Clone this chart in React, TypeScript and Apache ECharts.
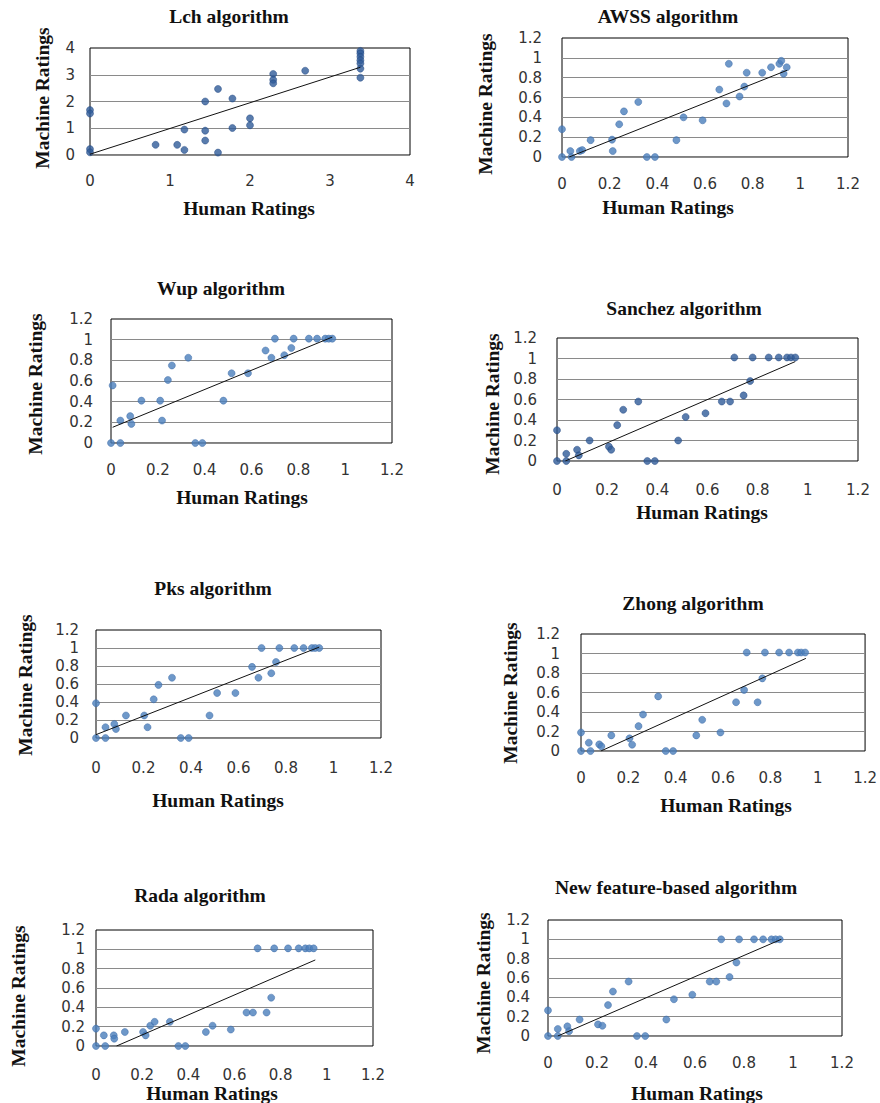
import React, { useEffect, useRef } from "react";
import * as echarts from "echarts";

// ---- Data (x = human rating, y = machine rating) ----
const lchPoints = [
  [0, 1.68], [0, 1.55], [0, 0.22], [0, 0.1], [0.82, 0.38], [1.09, 0.38], [1.18, 0.95], [1.18, 0.19],
  [1.44, 2.0], [1.44, 0.91], [1.44, 0.54], [1.6, 2.47], [1.6, 0.09], [1.78, 2.11], [1.78, 1.01],
  [2.0, 1.37], [2.0, 1.11], [2.29, 3.03], [2.29, 2.81], [2.29, 2.68], [2.69, 3.15],
  [3.38, 3.89], [3.38, 3.8], [3.38, 3.67], [3.38, 3.54], [3.38, 3.42], [3.38, 3.23], [3.38, 2.89],
];
const lchTrend = [[0, 0.03], [3.38, 3.28]];

const awssPoints = [
  [0, 0.28], [0, 0], [0.035, 0.06], [0.04, 0], [0.075, 0.06], [0.085, 0.07], [0.12, 0.17], [0.21, 0.175],
  [0.213, 0.06], [0.24, 0.33], [0.26, 0.46], [0.32, 0.555], [0.356, 0], [0.39, 0], [0.48, 0.17],
  [0.51, 0.4], [0.59, 0.37], [0.66, 0.68], [0.69, 0.54], [0.7, 0.94], [0.745, 0.61], [0.765, 0.71],
  [0.775, 0.85], [0.84, 0.85], [0.877, 0.905], [0.912, 0.94], [0.92, 0.97], [0.93, 0.84], [0.943, 0.905],
];
const awssTrend = [[0.03, 0], [0.945, 0.875]];

const wupPoints = [
  [0.007, 0.557], [0, 0], [0.04, 0.217], [0.04, 0], [0.082, 0.26], [0.087, 0.185], [0.13, 0.41],
  [0.21, 0.41], [0.218, 0.217], [0.243, 0.61], [0.26, 0.75], [0.33, 0.825], [0.36, 0], [0.39, 0],
  [0.48, 0.41], [0.515, 0.675], [0.585, 0.675], [0.66, 0.895], [0.685, 0.825], [0.7, 1.01],
  [0.74, 0.85], [0.77, 0.92], [0.78, 1.01], [0.845, 1.01], [0.88, 1.01], [0.915, 1.01], [0.93, 1.01], [0.945, 1.01],
];
const wupTrend = [[0.007, 0.152], [0.945, 1.025]];

const sanchezPoints = [
  [0, 0.3], [0, 0], [0.037, 0.07], [0.037, 0], [0.08, 0.11], [0.087, 0.055], [0.13, 0.2], [0.207, 0.14],
  [0.216, 0.11], [0.24, 0.35], [0.264, 0.5], [0.324, 0.58], [0.36, 0], [0.39, 0], [0.483, 0.2],
  [0.513, 0.43], [0.592, 0.466], [0.657, 0.58], [0.69, 0.58], [0.707, 1.01], [0.744, 0.64],
  [0.77, 0.78], [0.78, 1.01], [0.844, 1.01], [0.884, 1.01], [0.917, 1.01], [0.933, 1.01], [0.95, 1.01],
];
const sanchezTrend = [[0.033, 0], [0.95, 0.97]];

const pksPoints = [
  [0, 0.386], [0, 0], [0.04, 0.12], [0.04, 0], [0.077, 0.155], [0.084, 0.1], [0.126, 0.25], [0.203, 0.25],
  [0.217, 0.12], [0.243, 0.43], [0.263, 0.59], [0.32, 0.67], [0.357, 0], [0.39, 0], [0.478, 0.25],
  [0.51, 0.5], [0.587, 0.5], [0.657, 0.79], [0.684, 0.67], [0.697, 1.0], [0.738, 0.72], [0.758, 0.845],
  [0.772, 1.0], [0.835, 1.0], [0.874, 1.0], [0.909, 1.0], [0.923, 1.0], [0.94, 1.0],
];
const pksTrend = [[0, 0.037], [0.94, 1.01]];

const zhongPoints = [
  [0, 0.19], [0, 0], [0.033, 0.085], [0.04, 0], [0.077, 0.068], [0.086, 0.048], [0.128, 0.16],
  [0.205, 0.13], [0.216, 0.065], [0.243, 0.255], [0.262, 0.374], [0.326, 0.56], [0.358, 0], [0.389, 0],
  [0.487, 0.16], [0.512, 0.32], [0.589, 0.19], [0.655, 0.5], [0.689, 0.626], [0.7, 1.01], [0.746, 0.5],
  [0.766, 0.745], [0.777, 1.01], [0.837, 1.01], [0.879, 1.01], [0.916, 1.01], [0.93, 1.01], [0.947, 1.01],
];
const zhongTrend = [[0.084, 0], [0.95, 0.95]];

const radaPoints = [
  [0, 0.18], [0, 0], [0.034, 0.11], [0.04, 0], [0.077, 0.11], [0.079, 0.076], [0.125, 0.145],
  [0.204, 0.145], [0.215, 0.11], [0.235, 0.21], [0.254, 0.25], [0.32, 0.25], [0.357, 0], [0.387, 0],
  [0.476, 0.145], [0.505, 0.21], [0.584, 0.17], [0.652, 0.346], [0.68, 0.346], [0.7, 1.01], [0.739, 0.346],
  [0.759, 0.5], [0.772, 1.01], [0.832, 1.01], [0.878, 1.01], [0.907, 1.01], [0.924, 1.01], [0.943, 1.01],
];
const radaTrend = [[0.089, 0], [0.95, 0.89]];

const newPoints = [
  [0, 0.265], [0, 0], [0.04, 0.073], [0.04, 0], [0.079, 0.1], [0.086, 0.05], [0.129, 0.17], [0.204, 0.12],
  [0.222, 0.106], [0.245, 0.32], [0.265, 0.46], [0.329, 0.563], [0.363, 0], [0.397, 0], [0.483, 0.17],
  [0.514, 0.38], [0.589, 0.427], [0.66, 0.563], [0.687, 0.563], [0.707, 1.0], [0.741, 0.61], [0.769, 0.76],
  [0.78, 1.0], [0.841, 1.0], [0.878, 1.0], [0.912, 1.0], [0.929, 1.0], [0.946, 1.0],
];
const newTrend = [[0.04, 0], [0.952, 1.0]];

const titles = [
  "Lch algorithm", "AWSS algorithm", "Wup algorithm", "Sanchez algorithm",
  "Pks algorithm", "Zhong algorithm", "Rada algorithm", "New feature-based algorithm",
];
const allPoints = [lchPoints, awssPoints, wupPoints, sanchezPoints, pksPoints, zhongPoints, radaPoints, newPoints];
const allTrends = [lchTrend, awssTrend, wupTrend, sanchezTrend, pksTrend, zhongTrend, radaTrend, newTrend];
const axisMax = [4, 1.2, 1.2, 1.2, 1.2, 1.2, 1.2, 1.2];
const axisStep = [1, 0.2, 0.2, 0.2, 0.2, 0.2, 0.2, 0.2];
const xAxisTitle = "Human Ratings";
const yAxisTitle = "Machine Ratings";

// ---- Layout (pixels) ----
const plots = [
  { left: 90, top: 48, width: 320, height: 107, xm: 18, ym: 15, dark: true, t: [229, 16], yt: [42, 98], xt: [249, 208] },
  { left: 562, top: 38, width: 286, height: 119, xm: 19, ym: 20, dark: false, t: [668, 16], yt: [485, 104], xt: [668, 207] },
  { left: 111, top: 319, width: 281, height: 124, xm: 19, ym: 18, dark: false, t: [221, 288], yt: [35, 384], xt: [242, 497] },
  { left: 557, top: 338, width: 301, height: 123, xm: 21, ym: 20, dark: true, t: [684, 308], yt: [492, 404], xt: [702, 512] },
  { left: 96, top: 630, width: 285, height: 108, xm: 22, ym: 17, dark: false, t: [213, 588], yt: [25, 685], xt: [218, 800] },
  { left: 581, top: 634, width: 286, height: 117, xm: 19, ym: 21, dark: false, t: [693, 603], yt: [510, 693], xt: [726, 805] },
  { left: 96, top: 930, width: 277, height: 116, xm: 21, ym: 11, dark: false, t: [200, 895], yt: [18, 996], xt: [212, 1093] },
  { left: 548, top: 920, width: 294, height: 116, xm: 19, ym: 18, dark: false, t: [676, 887], yt: [483, 983], xt: [697, 1093] },
];

const serifBold = { fontFamily: '"Liberation Serif", "Times New Roman", serif', fontWeight: "bold", fontSize: 19.5 };
const tickFont = { fontFamily: '"DejaVu Sans", Verdana, sans-serif', fontSize: 15, color: "#333" };

function textEl(text: string, x: number, y: number, rotate = false) {
  return {
    type: "text",
    x,
    y,
    rotation: rotate ? Math.PI / 2 : 0,
    style: {
      text,
      ...serifBold,
      fill: "#111",
      align: "center",
      verticalAlign: "middle",
      textAlign: "center",
      textVerticalAlign: "middle",
    },
  };
}

export default function App() {
  const ref = useRef<HTMLDivElement>(null);
  useEffect(() => {
    document.body.style.margin = "0";
    if (!ref.current) return;
    const chart = echarts.init(ref.current, undefined, { renderer: "svg" });
    const grid = plots.map((p) => ({
      left: p.left, top: p.top, width: p.width, height: p.height,
      show: true, borderColor: "#000", borderWidth: 1, backgroundColor: "transparent",
    }));
    const xAxis = plots.map((p, i) => ({
      gridIndex: i, type: "value", min: 0, max: axisMax[i], interval: axisStep[i],
      axisLine: { show: false }, axisTick: { show: false }, splitLine: { show: false },
      axisLabel: { ...tickFont, margin: p.xm },
    }));
    const yAxis = plots.map((p, i) => ({
      gridIndex: i, type: "value", min: 0, max: axisMax[i], interval: axisStep[i],
      axisLine: { show: false }, axisTick: { show: false },
      splitLine: { show: true, showMaxLine: false, lineStyle: { color: "#8a8a8a", width: 1 } },
      axisLabel: { ...tickFont, margin: p.ym },
    }));
    const series: any[] = [];
    plots.forEach((p, i) => {
      series.push({
        type: "scatter", xAxisIndex: i, yAxisIndex: i, data: allPoints[i], symbol: "circle", symbolSize: 7,
        itemStyle: { color: p.dark ? "#2f5b98" : "#4a7ebb", borderColor: p.dark ? "#1f4680" : "#3b6aa6", borderWidth: 0.6 },
        z: 3,
      });
      series.push({
        type: "line", xAxisIndex: i, yAxisIndex: i, data: allTrends[i], symbol: "none",
        lineStyle: { color: "#111", width: 1 }, z: 4, silent: true,
      });
    });
    const graphic: any[] = [];
    plots.forEach((p, i) => {
      graphic.push(textEl(titles[i], p.t[0], p.t[1]));
      graphic.push(textEl(yAxisTitle, p.yt[0], p.yt[1], true));
      graphic.push(textEl(xAxisTitle, p.xt[0], p.xt[1]));
    });
    chart.setOption({
      animation: false,
      backgroundColor: "#fff",
      grid, xAxis, yAxis, series, graphic,
    });
    return () => chart.dispose();
  }, []);
  return <div ref={ref} style={{ width: 880, height: 1103 }} />;
}
